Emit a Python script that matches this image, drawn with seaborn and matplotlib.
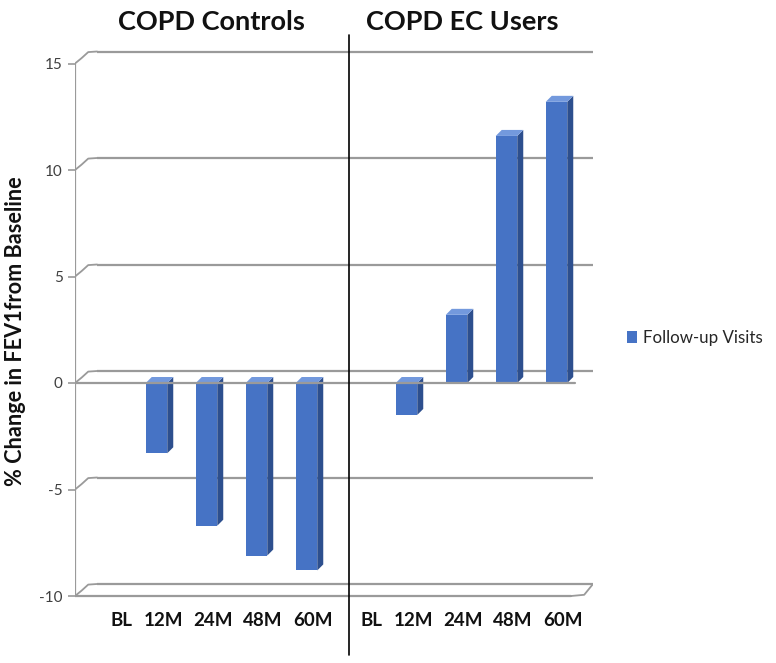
import numpy as np
import pandas as pd
import matplotlib
matplotlib.use("Agg")
import matplotlib.pyplot as plt
import matplotlib.transforms as mtransforms
import seaborn as sns
from matplotlib.patches import Polygon, Patch
from matplotlib.lines import Line2D

# ---- data ----
groups = ["COPD Controls", "COPD EC Users"]
visits = ["BL", "12M", "24M", "48M", "60M"]
controls_change = [0.0, -3.3, -6.7, -8.1, -8.8]
ec_users_change = [0.0, -1.5, 3.2, 11.6, 13.2]
y_ticks = [-10, -5, 0, 5, 10, 15]
series_name = "Follow-up Visits"
y_label = "% Change in FEV1from Baseline"

values = controls_change + ec_users_change
labels = visits + visits
slots = np.arange(len(values))
df = pd.DataFrame({"slot": slots - 0.13, "change": values})

sns.set_style("white")
plt.rcParams["font.family"] = ["Lato", "DejaVu Sans"]

W, H = 776, 663
fig = plt.figure(figsize=(W / 100, H / 100), dpi=100)
ax_l, ax_r, ax_t, ax_b = 75, 593, 45, 600
ax = fig.add_axes([ax_l / W, 1 - ax_b / H, (ax_r - ax_l) / W, (ax_b - ax_t) / H])

px_per_x = 50.0
px_per_y = 21.3
x0 = (ax_l - 113) / px_per_x
x1 = (ax_r - 113) / px_per_x
ax.set_xlim(x0, x1)
ax.set_ylim(-(ax_b - 383) / px_per_y, (383 - ax_t) / px_per_y)

front = "#4673C5"
side = "#2D4F8E"
top = "#7399DD"
grid_c = "#9a9a9a"

sns.barplot(data=df, x="slot", y="change", native_scale=True, width=0.43,
            color=front, saturation=1, linewidth=0, ax=ax, zorder=3, errorbar=None)

# back wall gridlines (3D offset)
dxb = 22 / px_per_x
dyb = 12 / px_per_y
for v in y_ticks:
    ax.plot([x0 + dxb, x1], [v + dyb, v + dyb], color=grid_c, lw=1.6, zorder=1,
            solid_capstyle="butt")
    ax.plot([x0, x0 + dxb * 0.3, x0 + dxb * 0.6, x0 + dxb],
            [v, v + dyb * 0.45, v + dyb * 0.95, v + dyb],
            color=grid_c, lw=1.3, zorder=1)
# front axis frame
ax.plot([x0, x0], [y_ticks[0], y_ticks[-1]], color=grid_c, lw=1.6, zorder=2)
ax.plot([x0, x1 - dxb], [y_ticks[0], y_ticks[0]], color=grid_c, lw=1.6, zorder=2)
ax.plot([x1 - dxb, x1 - dxb * 0.4, x1], [y_ticks[0], y_ticks[0] + dyb * 0.1, y_ticks[0] + dyb],
        color=grid_c, lw=1.3, zorder=2)

# 3D depth for bars
dx = 6 / px_per_x
dy = 6 / px_per_y
for p in list(ax.patches):
    h = p.get_height()
    if abs(h) < 1e-9:
        continue
    xl, w = p.get_x(), p.get_width()
    lo, hi = min(p.get_y(), p.get_y() + h), max(p.get_y(), p.get_y() + h)
    ax.add_patch(Polygon([(xl + w, lo), (xl + w + dx, lo + dy), (xl + w + dx, hi + dy), (xl + w, hi)],
                         closed=True, facecolor=side, edgecolor="none", zorder=3))
    ax.add_patch(Polygon([(xl, hi), (xl + dx, hi + dy), (xl + w + dx, hi + dy), (xl + w, hi)],
                         closed=True, facecolor=top, edgecolor="none", zorder=3))

# front floor line at zero (over bars)
ax.plot([x0, (575 - 113) / px_per_x], [0, 0], color=grid_c, lw=1.6, zorder=4)

for s in ax.spines.values():
    s.set_visible(False)
ax.grid(False)
ax.set_yticks(y_ticks)
ax.set_yticklabels([str(t) for t in y_ticks], fontsize=11, color="#404040")
ax.tick_params(axis="y", length=5, width=1.2, color=grid_c, pad=4, left=True)
ax.set_xticks(slots)
ax.set_xticklabels(labels, fontsize=13.5, fontweight="bold", color="#111111")
ax.tick_params(axis="x", length=0, pad=9)
ax.set_xlabel("")
ax.set_ylabel("")
shift = mtransforms.ScaledTranslation(9 / 100, 0, fig.dpi_scale_trans)
for lab in ax.get_xticklabels():
    if lab.get_text() == "BL":
        lab.set_transform(lab.get_transform() + shift)

fig.text(16 / W, 1 - 331 / H, y_label, rotation=90, ha="center", va="center",
         fontsize=15.6, fontweight="bold", color="#111111")
fig.text(211 / W, 1 - 22 / H, groups[0], ha="center", va="center",
         fontsize=19.5, fontweight="bold", color="#111111")
fig.text(462 / W, 1 - 22 / H, groups[1], ha="center", va="center",
         fontsize=19.5, fontweight="bold", color="#111111")

fig.add_artist(Line2D([349 / W, 349 / W], [1 - 35 / H, 1 - 655 / H],
                      transform=fig.transFigure, color="black", lw=1.2))

ax.legend(handles=[Patch(facecolor=front, edgecolor="none", label=series_name)],
          loc="center left", bbox_to_anchor=(612 / W, 1 - 338 / H),
          bbox_transform=fig.transFigure, frameon=False, fontsize=12.2,
          handlelength=0.6, handleheight=0.75, handletextpad=0.35)

fig.savefig("out.png", dpi=100)
